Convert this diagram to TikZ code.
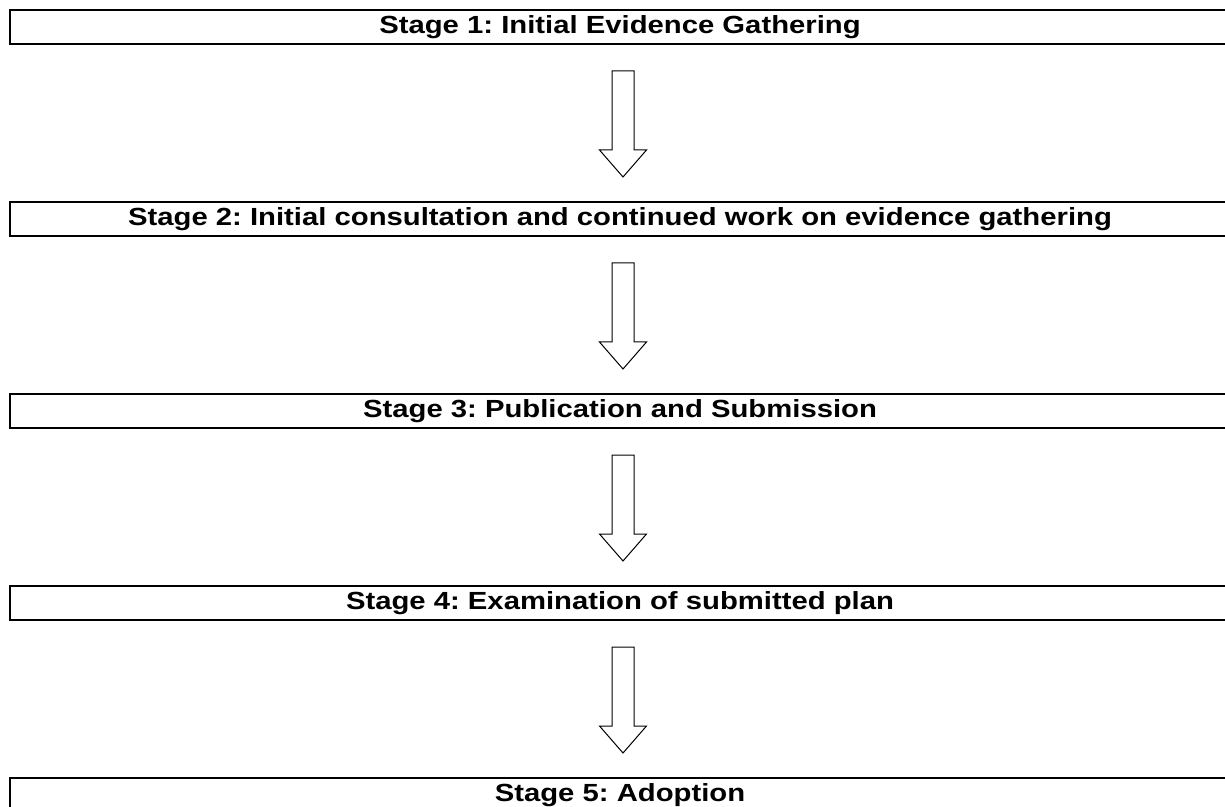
\documentclass[tikz,border=0pt]{standalone}
\usepackage{fontspec}
\setmainfont[FakeStretch=1.18]{Liberation Sans}
\frenchspacing
\usetikzlibrary{positioning,calc}
\tikzset{
  stagebox/.style={draw, line width=1pt, minimum width=610pt, minimum height=17pt,
    inner sep=0pt, outer sep=0pt, font=\bfseries\fontsize{12.4}{14}\selectfont},
  stagearrow/.style={draw, line width=0.5pt, line join=miter}
}
\begin{document}
\begin{tikzpicture}[x=0.5pt,y=-0.5pt]
  \useasboundingbox (0,0) rectangle (1225,807);
  \node [stagebox, anchor=north west] (s1) at (10,10) {Stage 1: Initial Evidence Gathering};
  \node [stagebox, below=79pt of s1] (s2) {Stage 2: Initial consultation and continued work on evidence gathering};
  \node [stagebox, below=79pt of s2] (s3) {Stage 3: Publication and Submission};
  \node [stagebox, below=79pt of s3] (s4) {Stage 4: Examination of submitted plan};
  \node [stagebox, below=79pt of s4] (s5) {Stage 5: Adoption};
  % hollow arrows between the stages
  \foreach \i/\j in {1/2,2/3,3/4,4/5}
    \draw [stagearrow] ($(s\i.south)+(-8,27)$) -- ($(s\j.north)+(-8,-52)$) -- ++(-12.5,0)
      -- ($(s\j.north)+(3,-25)$) -- ($(s\j.north)+(26.5,-52)$) -- ++(-12.5,0)
      -- ($(s\i.south)+(14,27)$) -- cycle;
\end{tikzpicture}
\end{document}
